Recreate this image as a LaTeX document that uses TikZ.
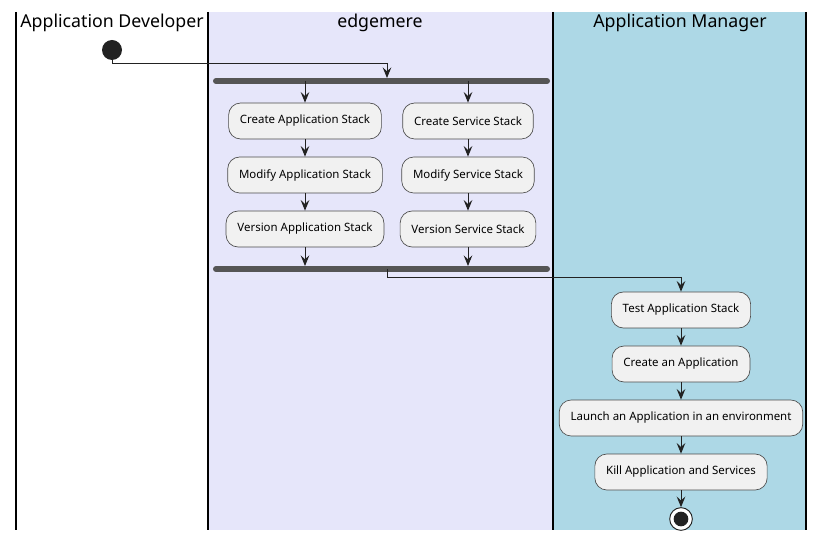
\documentclass[tikz,border=0pt]{standalone}
\usepackage{fontspec}
\setmainfont{Noto Sans}
\usetikzlibrary{arrows.meta}
\definecolor{lavender}{HTML}{E6E6FA}
\definecolor{lblue}{HTML}{ADD8E6}
\definecolor{boxfill}{HTML}{F1F1F1}
\definecolor{barcol}{HTML}{555555}
\definecolor{dark}{HTML}{222222}
\begin{document}
\begin{tikzpicture}[x=0.75pt,y=-0.75pt,
  act/.style={draw=black!70,fill=boxfill,rounded corners=9pt,minimum height=27pt,inner xsep=8.5pt,font=\fontsize{8.6}{10}\selectfont,line width=0.5pt},
  lanetitle/.style={font=\fontsize{13.3}{16}\selectfont},
  flow/.style={draw=dark,line width=0.7pt,-{Stealth[length=8pt,width=6.5pt,inset=3pt]}},
  flowplain/.style={draw=dark,line width=0.7pt},
  bar/.style={draw=barcol,line width=4.5pt,line cap=round},
  lane/.style={line width=1.2pt,black}]
\useasboundingbox (0,0) rectangle (824,541);
% lane backgrounds
\fill[lavender] (208,12) rectangle (553,530);
\fill[lblue] (553,12) rectangle (806,530);
\draw[lane] (16,12) -- (16,530);
\draw[lane] (208,12) -- (208,530);
\draw[lane] (553,12) -- (553,530);
\draw[lane] (806,12) -- (806,530);
% titles
\node[lanetitle] (t1) at (112,23) {Application Developer};
\node[lanetitle] (t2) at (380,23) {edgemere};
\node[lanetitle] (t3) at (680,23) {Application Manager};
% start
\node[circle,fill=dark,minimum size=15pt,inner sep=0pt] (start) at (112,50) {};
% fork bar
\coordinate (f1) at (216,81);
\coordinate (f2) at (547,81);
\draw[bar] (f1) -- (f2);
\coordinate (fin) at (387,78);
\coordinate (fa) at (305,81);
\coordinate (fb) at (468,81);
\coordinate (s1) at (112,63);
\coordinate (s2) at (387,63);
\draw[flowplain] (start.center) -- (s1) -- (s2);
\draw[flow] (s2) -- (fin);
% activities
\node[act] (ca) at (305,121) {Create Application Stack};
\node[act] (cs) at (468,121) {Create Service Stack};
\node[act] (ma) at (305,175) {Modify Application Stack};
\node[act] (ms) at (468,175) {Modify Service Stack};
\node[act] (va) at (305,229) {Version Application Stack};
\node[act] (vs) at (468,229) {Version Service Stack};
\draw[flow] (fa) -- (ca);
\draw[flow] (fb) -- (cs);
\draw[flow] (ca) -- (ma);
\draw[flow] (cs) -- (ms);
\draw[flow] (ma) -- (va);
\draw[flow] (ms) -- (vs);
% join bar
\coordinate (j1) at (216,269);
\coordinate (j2) at (547,269);
\coordinate (ja) at (305,266);
\coordinate (jb) at (468,266);
\draw[bar] (j1) -- (j2);
\draw[flow] (va) -- (ja);
\draw[flow] (vs) -- (jb);
\coordinate (jo) at (387,269);
\coordinate (k1) at (387,277);
\coordinate (k2) at (681,277);
\node[act] (ta) at (681,310) {Test Application Stack};
\node[act] (cr) at (681,364) {Create an Application};
\node[act] (la) at (681,418) {Launch an Application in an environment};
\node[act] (ki) at (681,472) {Kill Application and Services};
\draw[flowplain] (jo) -- (k1) -- (k2);
\draw[flow] (k2) -- (ta);
\draw[flow] (ta) -- (cr);
\draw[flow] (cr) -- (la);
\draw[flow] (la) -- (ki);
% end
\node[circle,draw=dark,line width=0.7pt,fill=white,minimum size=17pt,inner sep=0pt] (end) at (681,519) {};
\fill[dark] (end.center) circle (5.5pt);
\draw[flow] (ki) -- (end);
\end{tikzpicture}
\end{document}
